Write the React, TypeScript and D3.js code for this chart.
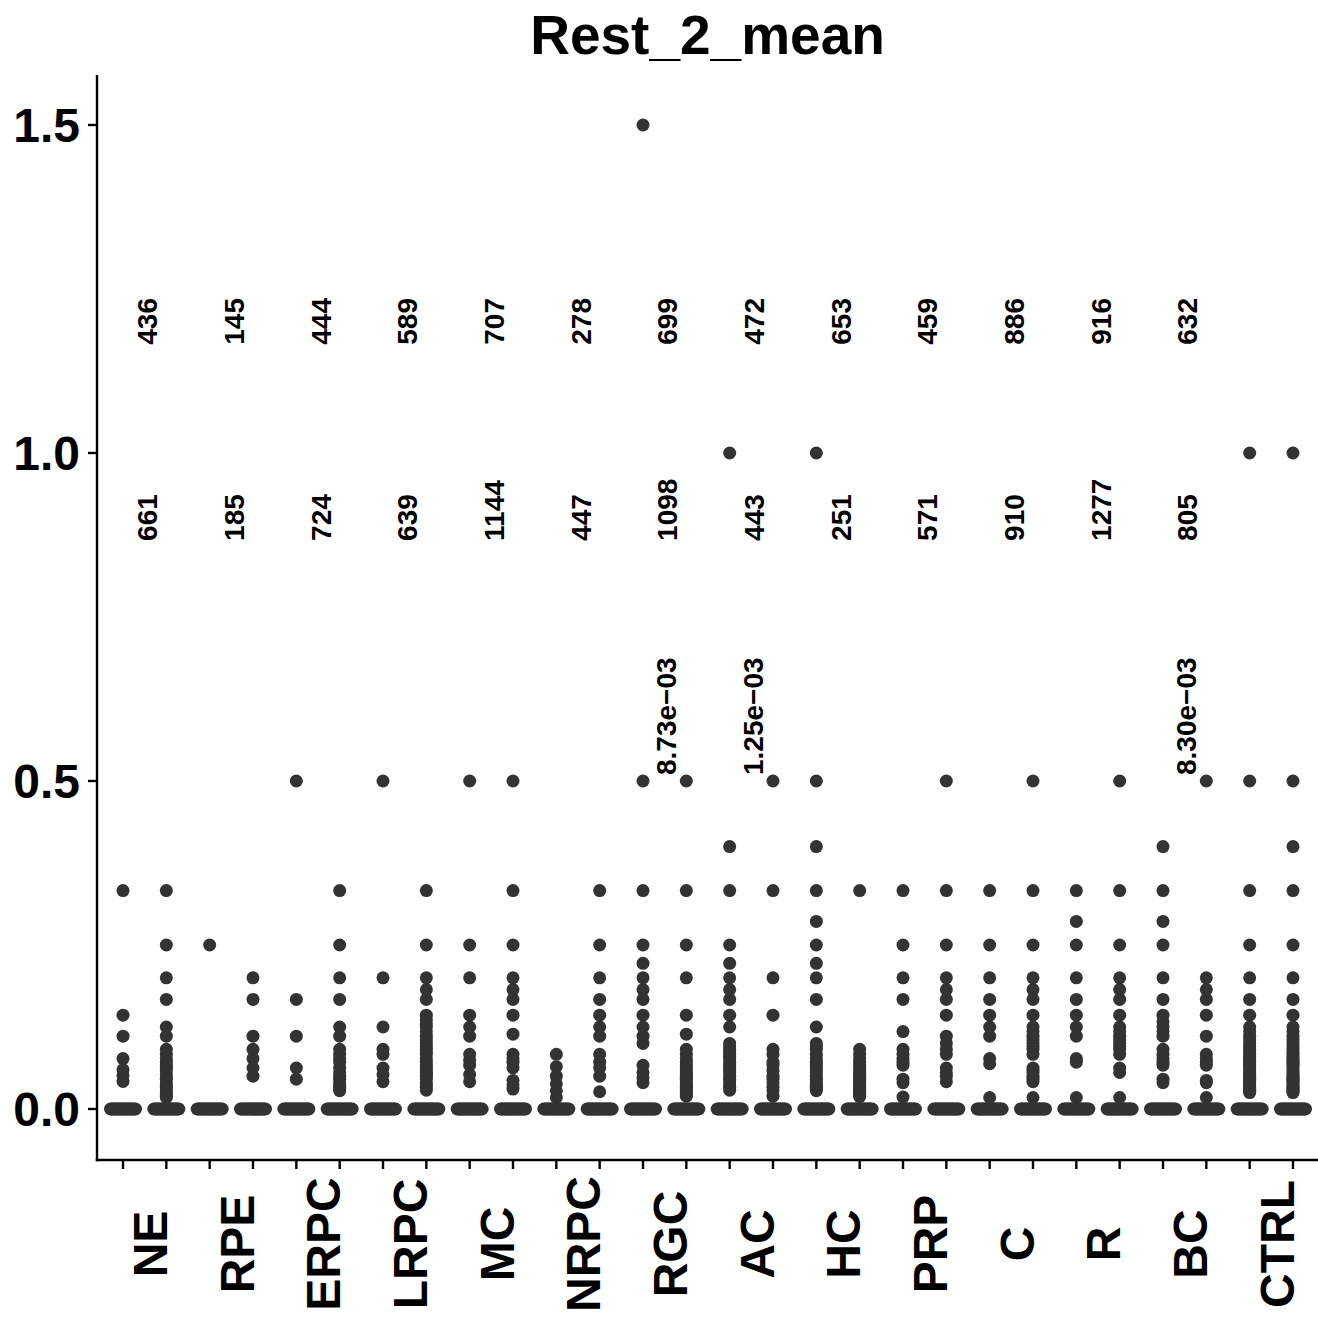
import React from 'react';
import * as d3 from 'd3';

const title = "Rest_2_mean";
const groups = ["NE", "RPE", "ERPC", "LRPC", "MC", "NRPC", "RGC", "AC", "HC", "PRP", "C", "R", "BC", "CTRL"];
const subgroups = ["a", "b"];
const countsTop = [436, 145, 444, 589, 707, 278, 699, 472, 653, 459, 886, 916, 632];
const countsBottom = [661, 185, 724, 639, 1144, 447, 1098, 443, 251, 571, 910, 1277, 805];
const pGroups = ["RGC", "AC", "BC"];
const pTexts = ["8.73e\u221203", "1.25e\u221203", "8.30e\u221203"];
const yTicks = [0, 0.5, 1.0, 1.5];

// non-zero values per column (every column also has many zeros)
const NE_a = [0.333, 0.143, 0.111, 0.0769, 0.06, 0.051, 0.042];
const NE_b = [0.333, 0.25, 0.2, 0.167, 0.125, 0.111, 0.0909, 0.0833, 0.0769, 0.0714, 0.0667, 0.0625, 0.0588, 0.0526, 0.0476, 0.0455, 0.04, 0.0357, 0.0333, 0.0294, 0.0263, 0.0222, 0.02, 0.0175];
const RPE_a = [0.25];
const RPE_b = [0.2, 0.167, 0.111, 0.0909, 0.0769, 0.0625, 0.05];
const ERPC_a = [0.5, 0.167, 0.111, 0.0625, 0.0455];
const ERPC_b = [0.333, 0.25, 0.2, 0.167, 0.125, 0.111, 0.0909, 0.0833, 0.0769, 0.0714, 0.0625, 0.0556, 0.05, 0.0455, 0.04, 0.037, 0.0333, 0.0303, 0.0278];
const LRPC_a = [0.5, 0.2, 0.125, 0.0909, 0.0833, 0.0625, 0.0526, 0.0417];
const LRPC_b = [0.333, 0.25, 0.2, 0.182, 0.167, 0.143, 0.136, 0.13, 0.125, 0.118, 0.111, 0.105, 0.1, 0.0952, 0.0909, 0.087, 0.0833, 0.0769, 0.0714, 0.0667, 0.0625, 0.0588, 0.0556, 0.0526, 0.05, 0.0455, 0.04, 0.037, 0.0333, 0.0286];
const MC_a = [0.5, 0.25, 0.2, 0.143, 0.125, 0.111, 0.0833, 0.0741, 0.0667, 0.0526, 0.0417];
const MC_b = [0.5, 0.333, 0.25, 0.2, 0.182, 0.167, 0.143, 0.114, 0.0833, 0.0769, 0.0714, 0.0625, 0.0435, 0.037, 0.0303];
const NRPC_a = [0.0833, 0.0645, 0.05, 0.0385, 0.0278, 0.0175];
const NRPC_b = [0.333, 0.25, 0.2, 0.167, 0.143, 0.125, 0.111, 0.0833, 0.0714, 0.0625, 0.05, 0.0263];
const RGC_a = [1.5, 0.5, 0.333, 0.25, 0.222, 0.2, 0.182, 0.167, 0.143, 0.125, 0.111, 0.1, 0.0667, 0.0556, 0.0476, 0.04];
const RGC_b = [0.5, 0.333, 0.25, 0.2, 0.143, 0.114, 0.0909, 0.0833, 0.0769, 0.0714, 0.0667, 0.0625, 0.0588, 0.0556, 0.0526, 0.05, 0.0476, 0.0455, 0.0435, 0.04, 0.037, 0.0345, 0.0323, 0.03, 0.0278, 0.025, 0.0222, 0.0196];
const AC_a = [1.0, 0.4, 0.333, 0.25, 0.222, 0.2, 0.182, 0.167, 0.143, 0.125, 0.1, 0.0952, 0.0909, 0.087, 0.0833, 0.08, 0.0769, 0.0714, 0.0667, 0.0625, 0.0588, 0.0556, 0.05, 0.0455, 0.0417, 0.037, 0.0333, 0.0286];
const AC_b = [0.5, 0.333, 0.2, 0.143, 0.0909, 0.0833, 0.0714, 0.0667, 0.0588, 0.05, 0.0455, 0.04, 0.0333, 0.0278, 0.0196];
const HC_a = [1.0, 0.5, 0.4, 0.333, 0.286, 0.25, 0.222, 0.2, 0.167, 0.125, 0.1, 0.0952, 0.0909, 0.0833, 0.0769, 0.0714, 0.0667, 0.0625, 0.0588, 0.0556, 0.05, 0.0455, 0.0417, 0.0385, 0.0357, 0.0333, 0.0303, 0.0278];
const HC_b = [0.333, 0.0909, 0.0833, 0.0769, 0.0714, 0.0667, 0.0625, 0.0588, 0.0556, 0.0526, 0.05, 0.0476, 0.0455, 0.0435, 0.0417, 0.04, 0.037, 0.0345, 0.0323, 0.03, 0.0278, 0.025, 0.0227, 0.0208, 0.0189];
const PRP_a = [0.333, 0.25, 0.2, 0.167, 0.118, 0.0909, 0.0833, 0.0769, 0.0714, 0.0667, 0.0455, 0.04, 0.0182];
const PRP_b = [0.5, 0.333, 0.25, 0.2, 0.182, 0.167, 0.143, 0.111, 0.1, 0.0909, 0.0833, 0.0625, 0.0556, 0.05, 0.0417];
const C_a = [0.333, 0.25, 0.2, 0.167, 0.143, 0.125, 0.111, 0.0769, 0.069, 0.0175];
const C_b = [0.5, 0.333, 0.25, 0.2, 0.182, 0.167, 0.143, 0.125, 0.118, 0.111, 0.105, 0.1, 0.0952, 0.0909, 0.0833, 0.0625, 0.0588, 0.0556, 0.05, 0.0455, 0.0417, 0.0175];
const R_a = [0.333, 0.286, 0.25, 0.2, 0.167, 0.143, 0.125, 0.111, 0.0769, 0.0714, 0.0175];
const R_b = [0.5, 0.333, 0.25, 0.2, 0.182, 0.167, 0.143, 0.125, 0.118, 0.111, 0.105, 0.1, 0.0952, 0.0909, 0.0833, 0.0625, 0.0556, 0.0175];
const BC_a = [0.4, 0.333, 0.286, 0.25, 0.2, 0.167, 0.143, 0.133, 0.125, 0.118, 0.111, 0.0909, 0.0833, 0.0769, 0.0714, 0.0667, 0.0455, 0.04];
const BC_b = [0.5, 0.2, 0.182, 0.167, 0.143, 0.111, 0.0833, 0.0769, 0.0714, 0.0667, 0.0435, 0.04, 0.0175];
const CTRL_a = [1.0, 0.5, 0.333, 0.25, 0.2, 0.167, 0.143, 0.125, 0.118, 0.111, 0.105, 0.1, 0.0952, 0.0909, 0.087, 0.0833, 0.08, 0.0769, 0.0741, 0.0714, 0.069, 0.0667, 0.0625, 0.0588, 0.0556, 0.0526, 0.05, 0.0476, 0.0455, 0.0435, 0.0417, 0.04, 0.037, 0.0345, 0.0323, 0.0303, 0.0286, 0.027, 0.025];
const CTRL_b = [1.0, 0.5, 0.4, 0.333, 0.25, 0.2, 0.167, 0.143, 0.125, 0.118, 0.111, 0.105, 0.1, 0.0952, 0.0909, 0.087, 0.0833, 0.08, 0.0769, 0.0741, 0.0714, 0.069, 0.0667, 0.0625, 0.0588, 0.0556, 0.0526, 0.05, 0.0476, 0.0455, 0.0435, 0.0417, 0.04, 0.037, 0.0345, 0.0323, 0.0303, 0.0286, 0.027, 0.025];

const columnValues: Record<string, number[]> = {
  NE_a, NE_b, RPE_a, RPE_b, ERPC_a, ERPC_b, LRPC_a, LRPC_b, MC_a, MC_b, NRPC_a, NRPC_b,
  RGC_a, RGC_b, AC_a, AC_b, HC_a, HC_b, PRP_a, PRP_b, C_a, C_b, R_a, R_b, BC_a, BC_b, CTRL_a, CTRL_b,
};

const W = 1318;
const H = 1318;
const FONT = "'Liberation Sans', Arial, Helvetica, sans-serif";
const DOT = "#333333";

export default function App() {
  const columns = groups.flatMap((g) => subgroups.map((s) => `${g}_${s}`));
  const x = d3.scalePoint<string>().domain(columns).range([123, 1293]);
  const y = d3.scaleLinear().domain([0, 1.5]).range([1109, 125]);
  const axisX = 97;
  const axisY = 1160;
  const axisTop = 75;
  const center = (g: string) => ((x(`${g}_a`) as number) + (x(`${g}_b`) as number)) / 2;

  // quasirandom spread of the many zero values
  const zeroOffsets = d3.range(-12.5, 12.51, 1.25);

  return (
    <div style={{ position: 'absolute', left: 0, top: 0 }}>
      <svg width={W} height={H} style={{ display: 'block', background: '#fff' }} fontFamily={FONT}>
        <rect x={0} y={0} width={W} height={H} fill="#fff" />
        <text x={(axisX + W) / 2} y={54} textAnchor="middle" fontSize={55} fontWeight="bold" fill="#000">{title}</text>

        {/* points */}
        {columns.map((c) => (
          <g key={c}>
            {zeroOffsets.map((o, i) => (
              <circle key={`z${i}`} cx={(x(c) as number) + o} cy={y(0)} r={6.5} fill={DOT} />
            ))}
            {columnValues[c].map((v, i) => (
              <circle key={i} cx={x(c) as number} cy={y(v)} r={6.5} fill={DOT} />
            ))}
          </g>
        ))}

        {/* count labels */}
        {countsTop.map((n, i) => (
          <text key={`ct${i}`} transform={`translate(${center(groups[i]) + 3},${y(1.165)}) rotate(-90)`} dy="0.35em"
            textAnchor="start" fontSize={28} fontWeight="bold" fill="#000">{n}</text>
        ))}
        {countsBottom.map((n, i) => (
          <text key={`cb${i}`} transform={`translate(${center(groups[i]) + 3},${y(0.866)}) rotate(-90)`} dy="0.35em"
            textAnchor="start" fontSize={28} fontWeight="bold" fill="#000">{n}</text>
        ))}
        {pGroups.map((g, i) => (
          <text key={`p${i}`} transform={`translate(${center(g) + 1.5},${y(0.5) - 6}) rotate(-90)`} dy="0.35em"
            textAnchor="start" fontSize={28} fontWeight="bold" fill="#000">{pTexts[i]}</text>
        ))}

        {/* axes */}
        <line x1={axisX} x2={axisX} y1={axisTop} y2={axisY + 1.2} stroke="#000" strokeWidth={2.4} />
        <line x1={axisX - 1.2} x2={W} y1={axisY} y2={axisY} stroke="#000" strokeWidth={2.4} />
        {yTicks.map((t) => (
          <g key={`yt${t}`}>
            <line x1={axisX - 9} x2={axisX} y1={y(t)} y2={y(t)} stroke="#000" strokeWidth={2.4} />
            <text x={axisX - 17} y={y(t)} dy="0.35em" textAnchor="end" fontSize={48} fontWeight="bold" fill="#000">
              {d3.format('.1f')(t)}
            </text>
          </g>
        ))}
        {columns.map((c) => (
          <line key={`xt${c}`} x1={x(c) as number} x2={x(c) as number} y1={axisY} y2={axisY + 9} stroke="#000" strokeWidth={2.4} />
        ))}
        {groups.map((g) => (
          <text key={`xl${g}`} transform={`translate(${center(g) + 5.5},1244) rotate(-90)`} dy="0.35em"
            textAnchor="middle" fontSize={48} fontWeight="bold" fill="#000">{g}</text>
        ))}
      </svg>
    </div>
  );
}
